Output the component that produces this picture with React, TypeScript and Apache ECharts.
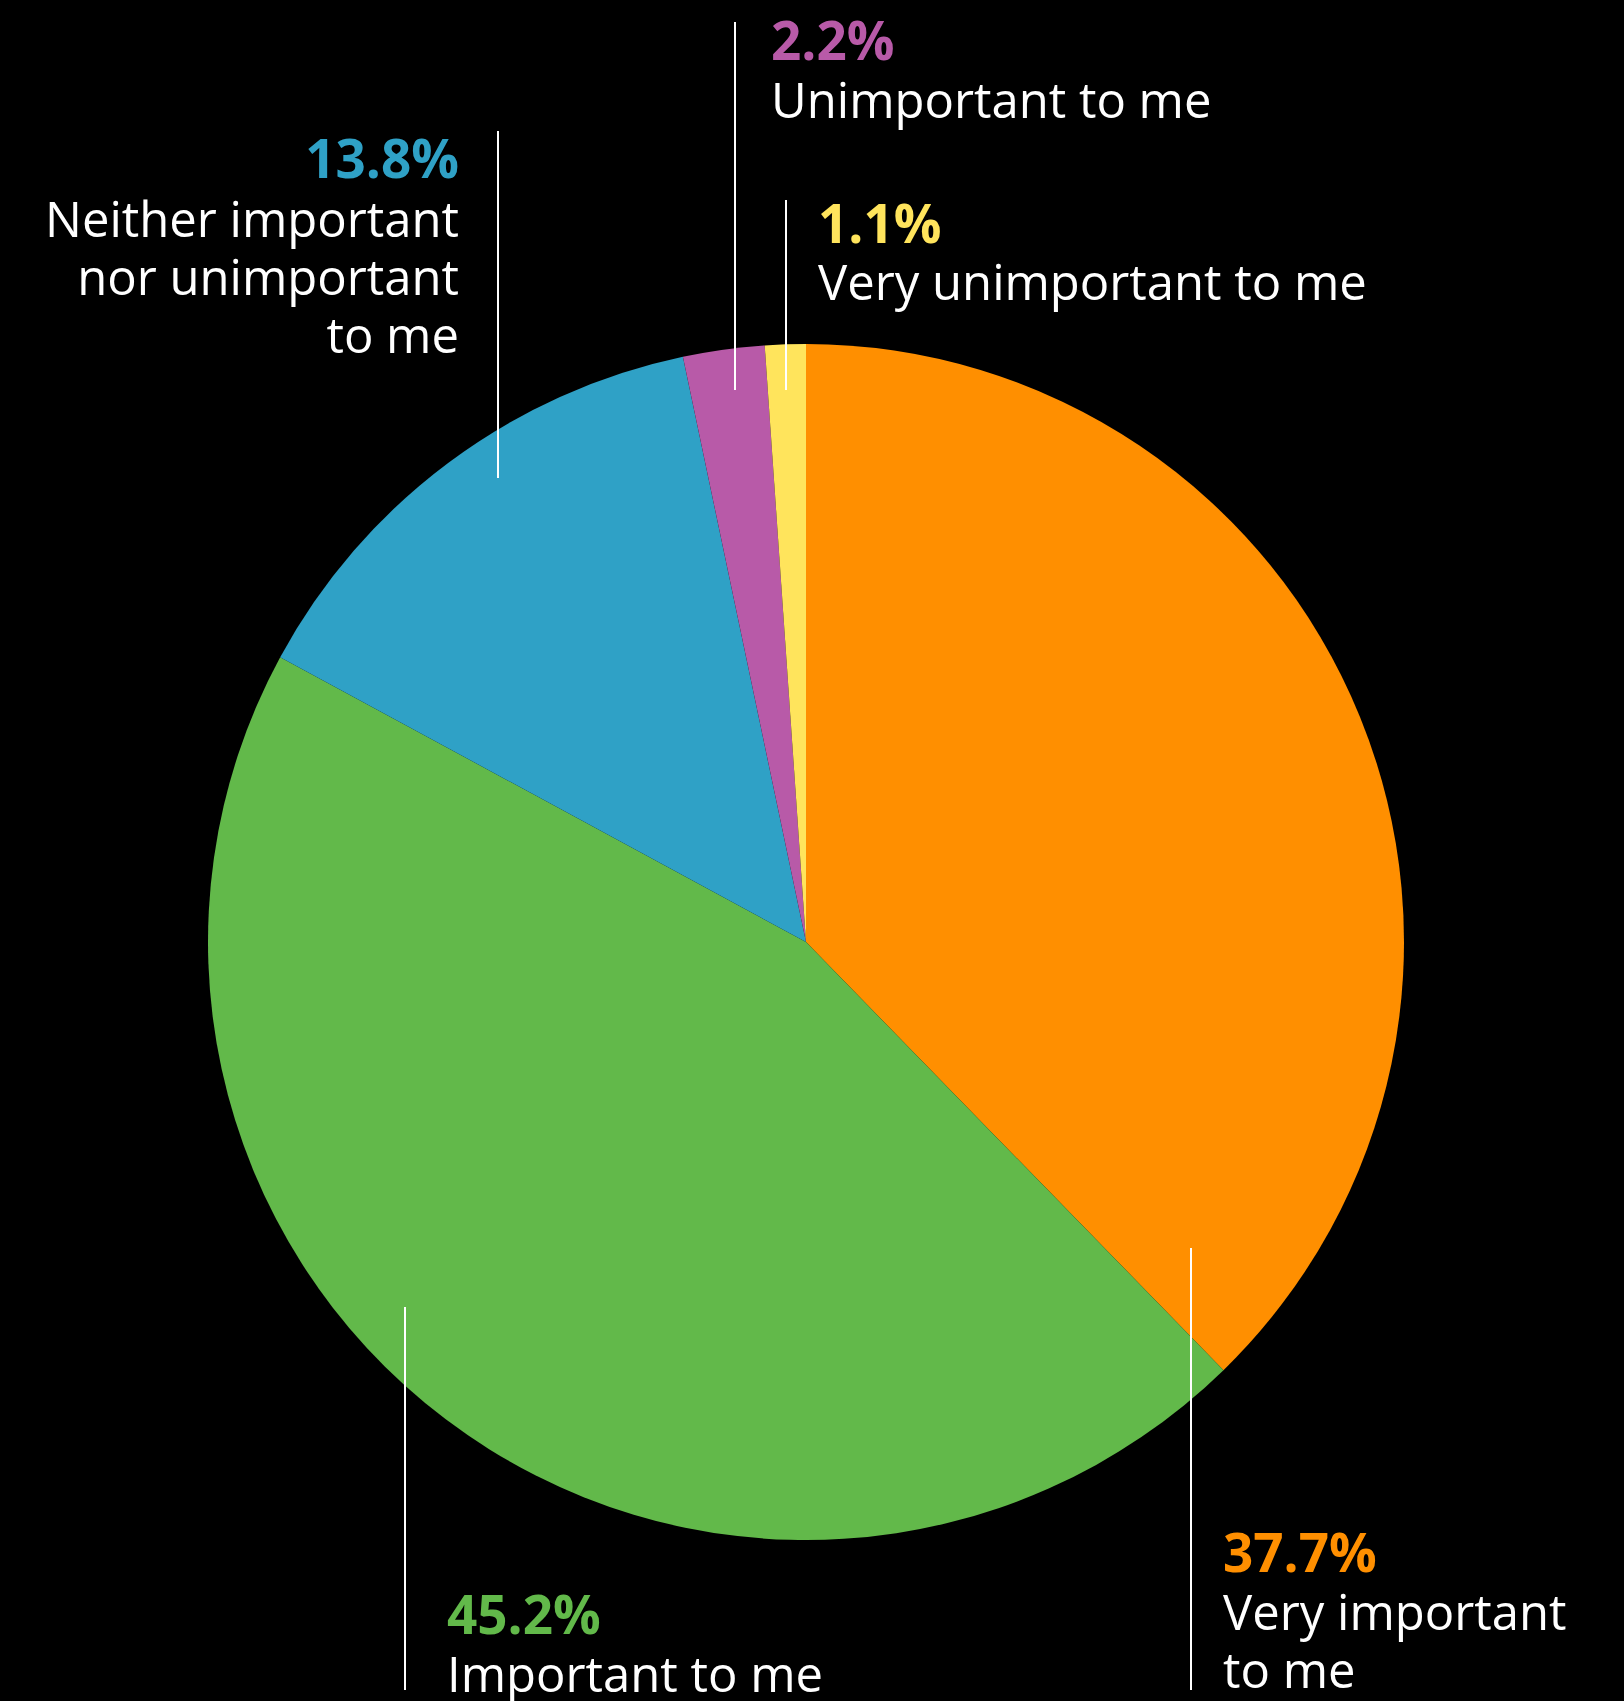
import React, { useEffect, useRef } from "react";
import * as echarts from "echarts";

const categories = [
  "Very important to me",
  "Important to me",
  "Neither important nor unimportant to me",
  "Unimportant to me",
  "Very unimportant to me",
];
const values = [37.7, 45.2, 13.8, 2.2, 1.1];
const colors = ["#FF8F00", "#62B94A", "#2FA1C6", "#B85AA8", "#FFE45C"];
const labelLines = [
  ["Very important", "to me"],
  ["Important to me"],
  ["Neither important", "nor unimportant", "to me"],
  ["Unimportant to me"],
  ["Very unimportant to me"],
];

// label placement (layout only)
const layouts = [
  { align: "left", x: 1223, pct: 1572, lines: [1630, 1688], lx: 1191, ly1: 1248, ly2: 1690 },
  { align: "left", x: 447, pct: 1634, lines: [1692], lx: 405, ly1: 1307, ly2: 1690 },
  { align: "right", x: 459, pct: 178, lines: [237, 295, 353], lx: 498, ly1: 131, ly2: 478 },
  { align: "left", x: 771, pct: 60, lines: [118], lx: 735, ly1: 22, ly2: 390 },
  { align: "left", x: 818, pct: 243, lines: [300], lx: 786, ly1: 200, ly2: 390 },
];

const FONT = "'Open Sans', 'Noto Sans', sans-serif";
const PCT_SIZE = 53;
const LBL_SIZE = 49;
const CENTRAL = 0.38;

export default function App() {
  const ref = useRef<HTMLDivElement>(null);
  useEffect(() => {
    if (!ref.current) return;
    const chart = echarts.init(ref.current, undefined, { renderer: "svg" });
    const graphics: any[] = [];
    layouts.forEach((l, i) => {
      graphics.push({
        type: "line",
        shape: { x1: l.lx, y1: l.ly1, x2: l.lx, y2: l.ly2 },
        style: { stroke: "#ffffff", lineWidth: 2 },
        z: 10,
      });
      graphics.push({
        type: "text",
        x: l.x,
        y: l.pct - CENTRAL * PCT_SIZE,
        style: {
          text: values[i].toFixed(1) + "%",
          fill: colors[i],
          font: `bold ${PCT_SIZE}px ${FONT}`,
          lineHeight: PCT_SIZE,
          align: l.align,
          verticalAlign: "middle",
        },
        z: 10,
      });
      labelLines[i].forEach((t, j) => {
        graphics.push({
          type: "text",
          x: l.x,
          y: l.lines[j] - CENTRAL * LBL_SIZE,
          style: {
            text: t,
            fill: "#ffffff",
            font: `${LBL_SIZE}px ${FONT}`,
            lineHeight: LBL_SIZE,
            align: l.align,
            verticalAlign: "middle",
          },
          z: 10,
        });
      });
    });
    chart.setOption({
      animation: false,
      backgroundColor: "#000000",
      series: [
        {
          type: "pie",
          center: [806, 942],
          radius: 598,
          startAngle: 90,
          clockwise: true,
          label: { show: false },
          labelLine: { show: false },
          itemStyle: { borderWidth: 0 },
          emphasis: { disabled: true },
          data: categories.map((name, i) => ({
            name,
            value: values[i],
            itemStyle: { color: colors[i] },
          })),
        },
      ],
      graphic: graphics,
    });
    return () => chart.dispose();
  }, []);
  return (
    <div
      ref={ref}
      style={{ position: "absolute", left: 0, top: 0, width: 1624, height: 1701, background: "#000" }}
    />
  );
}
